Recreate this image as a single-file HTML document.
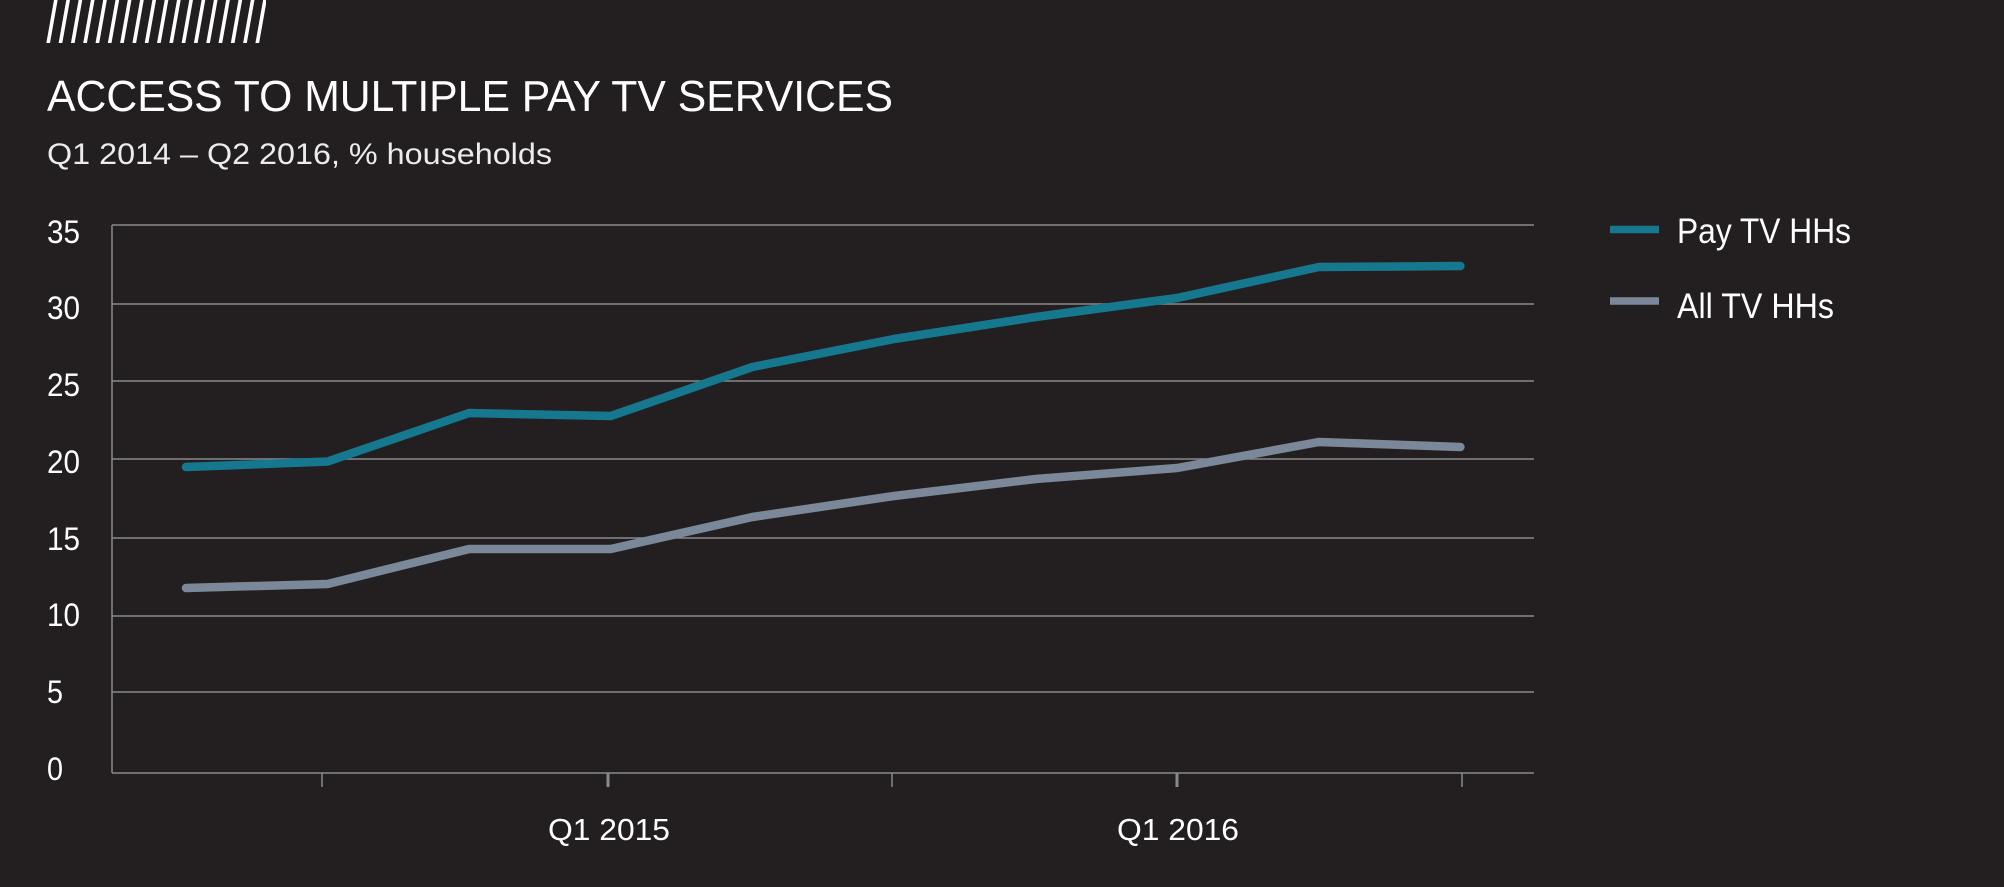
<!DOCTYPE html>
<html>
<head>
<meta charset="utf-8">
<style>
  html, body { margin: 0; padding: 0; background: #231f20; }
  body { width: 2004px; height: 887px; overflow: hidden; }
  svg { display: block; }
  text { font-family: "Liberation Sans", sans-serif; fill: #ffffff; }
</style>
</head>
<body>
<svg width="2004" height="887" viewBox="0 0 2004 887" xmlns="http://www.w3.org/2000/svg">
  <defs>
    <clipPath id="hc"><rect x="46" y="0" width="220" height="43"/></clipPath>
  </defs>
  <rect width="2004" height="887" fill="#231f20"/>

  <!-- hatch -->
  <g clip-path="url(#hc)" stroke="#ffffff" stroke-width="3.6">
    <line x1="48" y1="44" x2="56" y2="-1"/>
    <line x1="60.3" y1="44" x2="68.3" y2="-1"/>
    <line x1="72.6" y1="44" x2="80.6" y2="-1"/>
    <line x1="84.9" y1="44" x2="92.9" y2="-1"/>
    <line x1="97.2" y1="44" x2="105.2" y2="-1"/>
    <line x1="109.5" y1="44" x2="117.5" y2="-1"/>
    <line x1="121.8" y1="44" x2="129.8" y2="-1"/>
    <line x1="134.1" y1="44" x2="142.1" y2="-1"/>
    <line x1="146.4" y1="44" x2="154.4" y2="-1"/>
    <line x1="158.7" y1="44" x2="166.7" y2="-1"/>
    <line x1="171" y1="44" x2="179" y2="-1"/>
    <line x1="183.3" y1="44" x2="191.3" y2="-1"/>
    <line x1="195.6" y1="44" x2="203.6" y2="-1"/>
    <line x1="207.9" y1="44" x2="215.9" y2="-1"/>
    <line x1="220.2" y1="44" x2="228.2" y2="-1"/>
    <line x1="232.5" y1="44" x2="240.5" y2="-1"/>
    <line x1="244.8" y1="44" x2="252.8" y2="-1"/>
    <line x1="257.1" y1="44" x2="265.1" y2="-1"/>
  </g>

  <!-- title -->
  <text x="47" y="111" font-size="44" textLength="846" lengthAdjust="spacingAndGlyphs">ACCESS TO MULTIPLE PAY TV SERVICES</text>
  <text x="47" y="164" font-size="30" textLength="505" lengthAdjust="spacingAndGlyphs" style="fill:#ececec">Q1 2014 – Q2 2016, % households</text>

  <!-- gridlines -->
  <g stroke="#8a8a8a" stroke-width="1.5">
    <line x1="112" y1="225" x2="1534" y2="225"/>
    <line x1="112" y1="304" x2="1534" y2="304"/>
    <line x1="112" y1="381" x2="1534" y2="381"/>
    <line x1="112" y1="459" x2="1534" y2="459"/>
    <line x1="112" y1="538" x2="1534" y2="538"/>
    <line x1="112" y1="616" x2="1534" y2="616"/>
    <line x1="112" y1="692" x2="1534" y2="692"/>
    <line x1="112" y1="773" x2="1534" y2="773"/>
    <line x1="112" y1="225" x2="112" y2="773"/>
    <!-- ticks -->
    <line x1="322" y1="773" x2="322" y2="787"/>
    <line x1="608" y1="773" x2="608" y2="787" stroke-width="3"/>
    <line x1="892" y1="773" x2="892" y2="787"/>
    <line x1="1177" y1="773" x2="1177" y2="787" stroke-width="3"/>
    <line x1="1462" y1="773" x2="1462" y2="787"/>
  </g>

  <!-- y labels -->
  <g font-size="32">
    <text x="47" y="243" textLength="33" lengthAdjust="spacingAndGlyphs">35</text>
    <text x="47" y="319" textLength="33" lengthAdjust="spacingAndGlyphs">30</text>
    <text x="47" y="396" textLength="33" lengthAdjust="spacingAndGlyphs">25</text>
    <text x="47" y="473" textLength="33" lengthAdjust="spacingAndGlyphs">20</text>
    <text x="47" y="550" textLength="33" lengthAdjust="spacingAndGlyphs">15</text>
    <text x="47" y="626" textLength="33" lengthAdjust="spacingAndGlyphs">10</text>
    <text x="47" y="703" textLength="16" lengthAdjust="spacingAndGlyphs">5</text>
    <text x="47" y="780" textLength="16" lengthAdjust="spacingAndGlyphs">0</text>
  </g>

  <!-- x labels -->
  <text x="548" y="840" font-size="31" textLength="122" lengthAdjust="spacingAndGlyphs">Q1 2015</text>
  <text x="1117" y="840" font-size="31" textLength="122" lengthAdjust="spacingAndGlyphs">Q1 2016</text>

  <!-- series -->
  <polyline fill="none" stroke="#7b889a" stroke-width="8.5" stroke-linecap="round" stroke-linejoin="round"
    points="186,588 327.6,584 469.2,549 610.8,549 752.4,517 894,496 1035.6,479 1177.2,468 1318.8,442 1460.4,447"/>
  <polyline fill="none" stroke="#15788f" stroke-width="8.5" stroke-linecap="round" stroke-linejoin="round"
    points="186,467 327.6,461.5 469.2,413 610.8,416 752.4,367 894,339 1035.6,317 1177.2,298 1318.8,267 1460.4,266"/>

  <!-- legend -->
  <line x1="1610" y1="229.5" x2="1659" y2="229.5" stroke="#15788f" stroke-width="7.5"/>
  <line x1="1610" y1="301" x2="1659" y2="301" stroke="#7b889a" stroke-width="7.5"/>
  <text x="1677" y="243" font-size="35" textLength="174" lengthAdjust="spacingAndGlyphs">Pay TV HHs</text>
  <text x="1677" y="318" font-size="35" textLength="157" lengthAdjust="spacingAndGlyphs">All TV HHs</text>
</svg>
</body>
</html>
